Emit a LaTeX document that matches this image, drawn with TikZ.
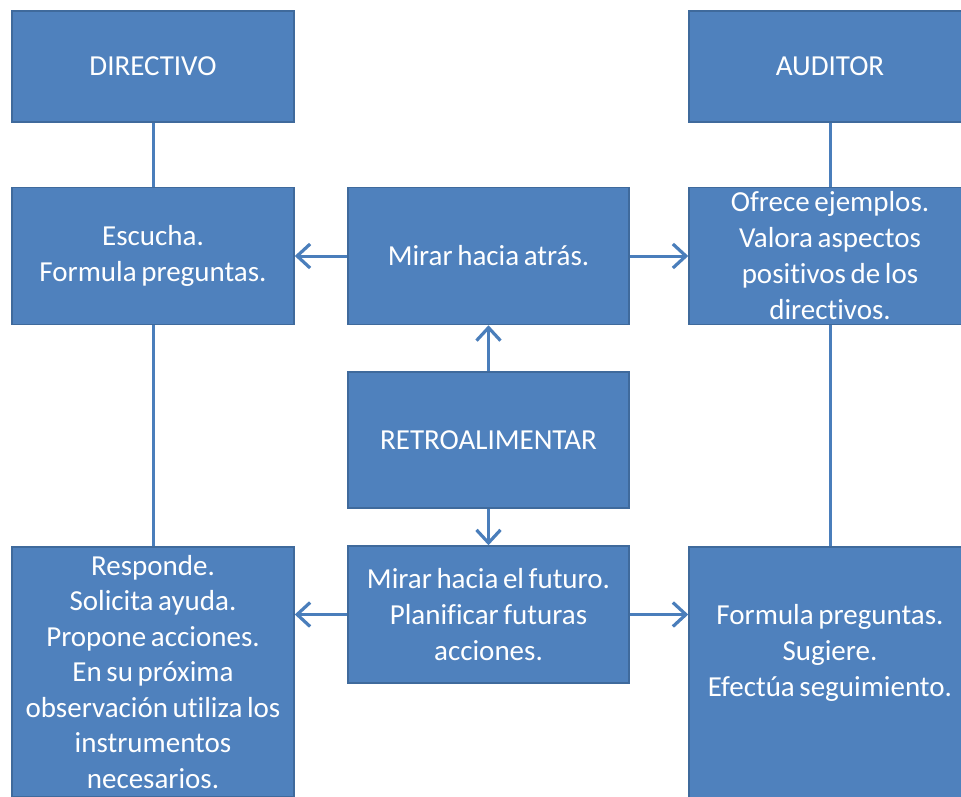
\documentclass[tikz,border=0pt]{standalone}
\usepackage{fontspec}
\setmainfont{Carlito}[WordSpace=0.7,Ligatures={NoCommon}]
\usetikzlibrary{arrows.meta}
\definecolor{boxfill}{HTML}{4F81BD}
\definecolor{boxline}{HTML}{3F6A9C}
\definecolor{linkcol}{HTML}{4A7EBB}
\begin{document}
\begin{tikzpicture}[x=1pt,y=-1pt,
  box/.style={draw=boxline, fill=boxfill, line width=1.5pt, minimum width=282pt, inner sep=0pt,
    text=white, align=center, font=\fontsize{29}{36}\selectfont},
  boxtext/.style={text=white, align=center, inner sep=0pt, font=\fontsize{29}{36}\selectfont},
  link/.style={draw=linkcol, line width=3pt},
  arr/.style={link, -{Straight Barb[length=13pt,width=24pt,line width=3.2pt]}}]
\useasboundingbox (0,0) rectangle (961,796);
\clip (0,0) rectangle (961,796);
\fill[white] (0,0) rectangle (961,796);
\node[box, minimum height=111pt] (dir) at (153,66.5) {DIRECTIVO};
\node[box, minimum height=111pt] (aud) at (830,66.5) {AUDITOR};
\node[box, minimum height=137pt] (esc) at (153,256) {Escucha.\\Formula preguntas.};
\node[box, minimum height=137pt, minimum width=281pt] (atras) at (488.5,256) {Mirar hacia atrás.};
\node[box, minimum height=137pt] (ofrece) at (830,256) {Ofrece ejemplos.\\Valora aspectos\\positivos de los\\directivos.};
\node[box, minimum height=136pt, minimum width=281pt] (retro) at (488.5,440) {RETROALIMENTAR};
\node[box, minimum height=137pt, minimum width=281pt] (futuro) at (488.5,614.5) {Mirar hacia el futuro.\\Planificar futuras\\acciones.};
\node[box, minimum height=250pt, anchor=north, font=\fontsize{29}{35.5}\selectfont] (responde) at (153,546) {Responde.\\Solicita ayuda.\\Propone acciones.\\En su próxima\\observación utiliza los\\instrumentos\\necesarios.};
\node[box, minimum height=260pt, anchor=north] (formula) at (830,546) {};
\node[boxtext] (formulatxt) at (830,653) {Formula preguntas.\\Sugiere.\\Efectúa seguimiento.};
\draw[link] (dir) -- (esc);
\draw[link] (esc) -- (responde);
\draw[link] (aud) -- (ofrece);
\draw[link] (ofrece) -- (formula);
\draw[arr] (atras) -- (esc);
\draw[arr] (atras) -- (ofrece);
\draw[arr] (retro) -- (atras);
\draw[arr] (retro) -- (futuro);
\draw[arr] (futuro.west) -- (futuro.west -| responde.east);
\draw[arr] (futuro.east) -- (futuro.east -| formula.west);
\end{tikzpicture}
\end{document}
